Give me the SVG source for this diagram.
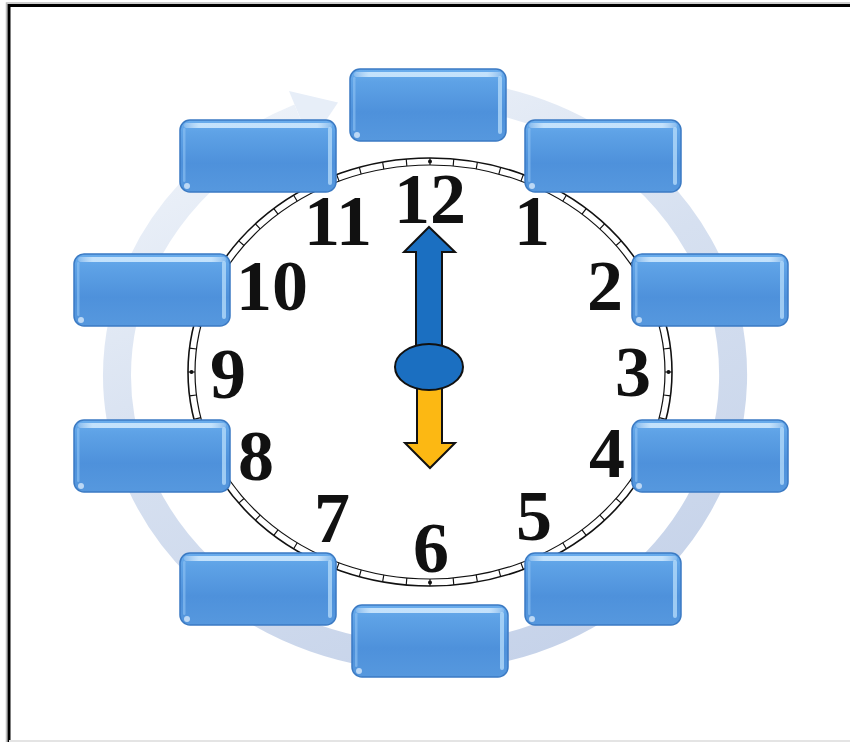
<svg xmlns="http://www.w3.org/2000/svg" xmlns:xlink="http://www.w3.org/1999/xlink" width="850" height="742" viewBox="0 0 850 742">
  <style>
    .num { font-family: "Liberation Serif", "DejaVu Serif", serif; font-weight: bold; font-size: 72px; fill: #111; text-anchor: middle; }
    .rim { fill: none; stroke: #111; }
    .hand { stroke: #111; stroke-width: 2; stroke-linejoin: miter; }
  </style>
  <defs>
    <linearGradient id="boxFill" x1="0" y1="0" x2="0" y2="1">
      <stop offset="0" stop-color="#6aaded"/>
      <stop offset="0.18" stop-color="#5ea2e6"/>
      <stop offset="0.6" stop-color="#4e91db"/>
      <stop offset="1" stop-color="#5698de"/>
    </linearGradient>
    <linearGradient id="topHi" x1="0" y1="0" x2="1" y2="0">
      <stop offset="0" stop-color="#ffffff" stop-opacity="0.2"/>
      <stop offset="0.1" stop-color="#d4ecff" stop-opacity="0.85"/>
      <stop offset="0.9" stop-color="#d4ecff" stop-opacity="0.85"/>
      <stop offset="1" stop-color="#ffffff" stop-opacity="0.2"/>
    </linearGradient>
    <linearGradient id="ringFill" gradientUnits="userSpaceOnUse" x1="300" y1="80" x2="560" y2="670">
      <stop offset="0" stop-color="#edf2f9"/>
      <stop offset="0.45" stop-color="#d6e0f0"/>
      <stop offset="1" stop-color="#c5d2e9"/>
    </linearGradient>
    <g id="boxShape">
      <rect x="0" y="0" width="156" height="72" rx="10" fill="url(#boxFill)" stroke="#3b7ac3" stroke-width="1.5"/>
      <rect x="4" y="3" width="148" height="5" rx="2.5" fill="url(#topHi)"/>
      <rect x="148" y="7" width="4" height="58" rx="2" fill="#b8ddfb" opacity="0.75"/>
      <rect x="3" y="8" width="2.5" height="54" rx="1.2" fill="#8fc3f3" opacity="0.6"/>
      <circle cx="7" cy="66" r="3" fill="#e8f4ff" opacity="0.7"/>
    </g>
  </defs>

  <!-- frame -->
  <path d="M850,3 H6.5 V742" fill="none" stroke="#bdbdbd" stroke-width="1.5"/>
  <path d="M850,5.5 H9 V742" fill="none" stroke="#000" stroke-width="3"/>
  <line x1="9" y1="741" x2="850" y2="741" stroke="#e4e4e4" stroke-width="2"/>

  <!-- background circular arrow -->
  <g id="cycle-arrow">
    <path d="M467.9,95.7 A308,282 0 1 1 299.7,117.4" fill="none" stroke="url(#ringFill)" stroke-width="28"/>
    <polygon points="289,91 338,102.5 310.5,143.5" fill="#e7eef8"/>
  </g>

  <!-- clock face -->
  <g id="clock">
    <ellipse cx="430" cy="372" rx="242" ry="214" fill="#fff" stroke="#111" stroke-width="1.6"/>
    <ellipse cx="430" cy="372" rx="235" ry="207" class="rim" stroke-width="1.2"/>
    <path d="M430,161.5 A238.5,210.5 0 0 1 430,582.5 A238.5,210.5 0 0 1 430,161.5" pathLength="60" fill="none" stroke="#111" stroke-width="7" stroke-dasharray="0.05 0.95" stroke-dashoffset="0.025"/>
    <circle cx="430" cy="161.5" r="2" fill="#111"/>
    <circle cx="668.5" cy="372" r="2" fill="#111"/>
    <circle cx="430" cy="582.5" r="2" fill="#111"/>
    <circle cx="191.5" cy="372" r="2" fill="#111"/>
    <text class="num" x="430" y="223">12</text>
    <text class="num" x="532" y="245">1</text>
    <text class="num" x="605" y="310">2</text>
    <text class="num" x="633" y="396">3</text>
    <text class="num" x="607" y="477">4</text>
    <text class="num" x="534" y="540">5</text>
    <text class="num" x="431" y="572">6</text>
    <text class="num" x="332" y="542">7</text>
    <text class="num" x="256" y="480">8</text>
    <text class="num" x="228" y="398">9</text>
    <text class="num" x="272" y="310">10</text>
    <text class="num" x="338" y="245">11</text>
  </g>

  <!-- hands -->
  <g id="hands">
    <polygon class="hand" points="429,227 455,252 442,252 442,360 416,360 416,252 404,252" fill="#1b6fc1"/>
    <polygon class="hand" points="417,375 442,375 442,443 455,443 430,468 405,443 417,443" fill="#fcb813"/>
    <ellipse class="hand" cx="429" cy="367" rx="34" ry="23" fill="#1b6fc1"/>
  </g>

  <!-- boxes -->
  <g id="box-12"><use xlink:href="#boxShape" x="350" y="69"/></g>
  <g id="box-11"><use xlink:href="#boxShape" x="180" y="120"/></g>
  <g id="box-1"><use xlink:href="#boxShape" x="525" y="120"/></g>
  <g id="box-10"><use xlink:href="#boxShape" x="74" y="254"/></g>
  <g id="box-2"><use xlink:href="#boxShape" x="632" y="254"/></g>
  <g id="box-8"><use xlink:href="#boxShape" x="74" y="420"/></g>
  <g id="box-4"><use xlink:href="#boxShape" x="632" y="420"/></g>
  <g id="box-7"><use xlink:href="#boxShape" x="180" y="553"/></g>
  <g id="box-5"><use xlink:href="#boxShape" x="525" y="553"/></g>
  <g id="box-6"><use xlink:href="#boxShape" x="352" y="605"/></g>
</svg>
